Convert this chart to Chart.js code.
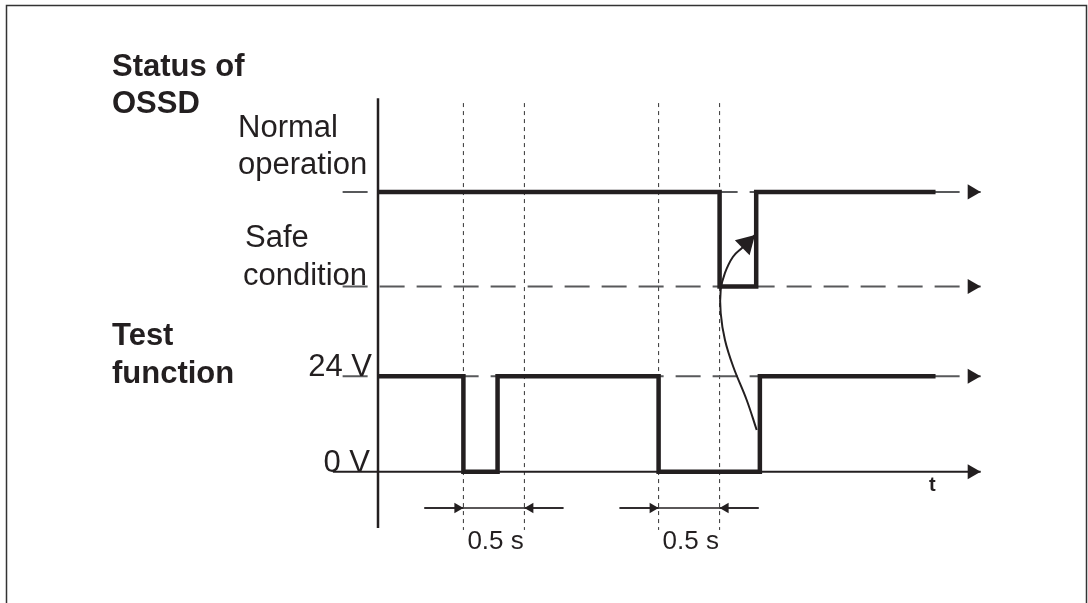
<!DOCTYPE html>
<html>
<head>
<meta charset="utf-8">
<script src="https://cdn.jsdelivr.net/npm/chart.js@4"></script>
<style>
  body { margin: 0; background: #fff; }
  canvas { display: block; }
</style>
</head>
<body>
<canvas id="myChart" width="1088" height="603"></canvas>
<script>
// signal levels (diagram units, 0 V = 0, 24 V = 1)
var V0 = 0;
var V24 = 1;
var SAFE = 1.94;
var NORMAL = 2.93;

// status of OSSD: time (s) where the level changes, and the new level
var ossdTimes = [0, 2.8, 3.1, 4.57];
var ossdLevels = [NORMAL, SAFE, NORMAL, NORMAL];

// test function
var testTimes = [0, 0.7, 0.98, 2.3, 3.13, 4.57];
var testLevels = [V24, V0, V24, V0, V24, V24];

// test pulses, 0.5 s each
var pulseStart = [0.7, 2.3];
var pulseEnd = [1.2, 2.8];
var pulseLabel = ["0.5 s", "0.5 s"];

// curved arrow, from the test rising edge up to the OSSD
var curveTimes = [3.104, 3.022, 2.912, 2.844, 2.809, 2.809, 2.844, 2.91, 2.988, 3.09];
var curveLevels = [0.437, 0.751, 1.099, 1.379, 1.662, 1.903, 2.081, 2.251, 2.348, 2.478];

var tEnd = 4.94;

var ink = '#231f20';
var grey = '#58595b';

function pts(xs, ys) {
    return xs.map(function (x, i) { return { x: x, y: ys[i] }; });
}

var datasets = [];

// signals on top
datasets.push({ data: pts(ossdTimes, ossdLevels), stepped: 'before', borderColor: ink, borderWidth: 4.5 });
datasets.push({ data: pts(testTimes, testLevels), stepped: 'before', borderColor: ink, borderWidth: 4.5 });

// curved arrow
datasets.push({ data: pts(curveTimes, curveLevels), tension: 0.4, borderColor: ink, borderWidth: 2, arrowSize: 18 });

// vertical axis
datasets.push({ data: [{ x: 0, y: -0.59 }, { x: 0, y: 3.91 }], borderColor: ink, borderWidth: 2.5 });

// time axis
datasets.push({ data: [{ x: -0.37, y: V0 }, { x: tEnd, y: V0 }], borderColor: ink, borderWidth: 2, arrowSize: 13 });

// dashed reference lines
[V24, SAFE, NORMAL].forEach(function (lv) {
    datasets.push({ data: [{ x: -0.29, y: lv }, { x: tEnd, y: lv }], borderColor: grey, borderWidth: 2, borderDash: [25, 12], arrowSize: 13, arrowColor: ink });
});

// dashed time markers
pulseStart.concat(pulseEnd).forEach(function (t) {
    datasets.push({ data: [{ x: t, y: 3.86 }, { x: t, y: -0.61 }], borderColor: '#333', borderWidth: 1, borderDash: [4, 4] });
});

// 0.5 s dimension arrows
var dimY = -0.38;
var tail = 0.32;
pulseStart.forEach(function (s, i) {
    var e = pulseEnd[i];
    datasets.push({ data: [{ x: s - tail, y: dimY }, { x: e + tail, y: dimY }], borderColor: ink, borderWidth: 1.5 });
    datasets.push({ data: [{ x: s - tail, y: dimY }, { x: s, y: dimY }], borderColor: ink, borderWidth: 1.5, arrowSize: 9 });
    datasets.push({ data: [{ x: e + tail, y: dimY }, { x: e, y: dimY }], borderColor: ink, borderWidth: 1.5, arrowSize: 9 });
});

const arrowPlugin = {
    id: 'arrows',
    afterDatasetsDraw(chart) {
        const c = chart.ctx;
        chart.data.datasets.forEach(function (ds, i) {
            if (!ds.arrowSize) return;
            const p = chart.getDatasetMeta(i).data;
            const a = p[p.length - 2], b = p[p.length - 1];
            const ang = Math.atan2(b.y - a.y, b.x - a.x);
            const L = ds.arrowSize, W = ds.arrowSize * 0.58;
            c.save();
            c.translate(b.x, b.y);
            c.rotate(ang);
            c.beginPath();
            c.moveTo(0, 0);
            c.lineTo(-L, -W);
            c.lineTo(-L, W);
            c.closePath();
            c.fillStyle = ds.arrowColor || ds.borderColor;
            c.fill();
            c.restore();
        });
    }
};

const textPlugin = {
    id: 'texts',
    afterDraw(chart) {
        const c = chart.ctx;
        const x = chart.scales.x, y = chart.scales.y;
        c.save();
        // frame
        c.strokeStyle = '#333';
        c.lineWidth = 1.5;
        c.beginPath();
        c.moveTo(6.5, 603);
        c.lineTo(6.5, 5.5);
        c.lineTo(1086.5, 5.5);
        c.lineTo(1086.5, 603);
        c.stroke();

        c.fillStyle = ink;
        c.textBaseline = 'alphabetic';
        var bold = 'bold 31px "Liberation Sans", Arial, sans-serif';
        var reg = '31px "Liberation Sans", Arial, sans-serif';
        c.textAlign = 'left';
        c.font = bold;
        c.fillText('Status of', 112, 76);
        c.fillText('OSSD', 112, 113);
        c.fillText('Test', 112, 345);
        c.fillText('function', 112, 383);
        c.font = reg;
        c.fillText('Normal', 238, 137);
        c.fillText('operation', 238, 174);
        c.fillText('Safe', 245, 247);
        c.fillText('condition', 243, 285);
        c.textAlign = 'right';
        c.fillText('24 V', x.getPixelForValue(0) - 6, y.getPixelForValue(V24));
        c.fillText('0 V', x.getPixelForValue(0) - 8, y.getPixelForValue(V0));
        c.textAlign = 'left';
        c.font = '26px "Liberation Sans", Arial, sans-serif';
        pulseStart.forEach(function (s, i) {
            c.fillText(pulseLabel[i], x.getPixelForValue(s) + 4, 549);
        });
        c.font = 'bold 20px "Liberation Sans", Arial, sans-serif';
        c.fillText('t', 929, 491);
        c.restore();
    }
};

var ctx = document.getElementById('myChart');

const myChart = new Chart(ctx, {
    type: 'line',
    data: { datasets: datasets },
    options: {
        responsive: false,
        animation: false,
        events: [],
        layout: { padding: 0 },
        elements: {
            point: { radius: 0 },
            line: { fill: false, borderCapStyle: 'butt', borderJoinStyle: 'miter' }
        },
        scales: {
            x: { type: 'linear', display: false, min: -378 / 122, max: 710 / 122 },
            y: { type: 'linear', display: false, min: -131.3 / 95.5, max: 471.7 / 95.5 }
        },
        plugins: {
            legend: { display: false },
            tooltip: { enabled: false }
        }
    },
    plugins: [arrowPlugin, textPlugin]
});
</script>
</body>
</html>
